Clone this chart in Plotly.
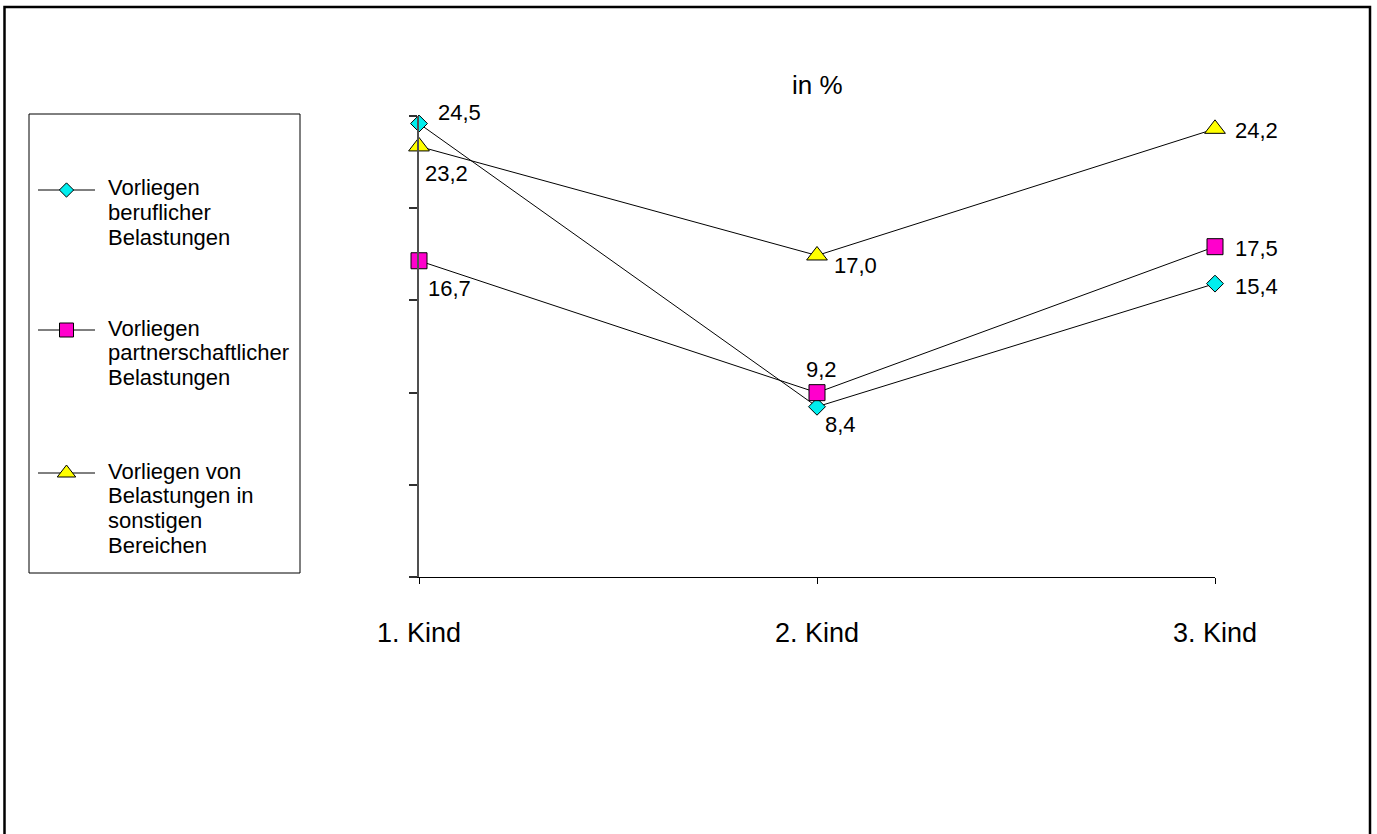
import numpy as np
import plotly.graph_objects as go

# ---- data -------------------------------------------------------------
categories = ["1. Kind", "2. Kind", "3. Kind"]

series_names = [
    "Vorliegen beruflicher Belastungen",
    "Vorliegen partnerschaftlicher Belastungen",
    "Vorliegen von Belastungen in sonstigen Bereichen",
]
beruflich = [24.5, 8.4, 15.4]
partnerschaftlich = [16.7, 9.2, 17.5]
sonstige = [23.2, 17.0, 24.2]

legend_lines = [
    ["Vorliegen", "beruflicher", "Belastungen"],
    ["Vorliegen", "partnerschaftlicher", "Belastungen"],
    ["Vorliegen von", "Belastungen in", "sonstigen", "Bereichen"],
]

# ---- styling ----------------------------------------------------------
W, H = 1377, 834
FONT = "Liberation Sans, Arial, sans-serif"
styles = [
    dict(symbol="diamond", color="#00EEEE", size=13),
    dict(symbol="square", color="#FF00CC", size=16),
    dict(symbol="triangle-up", color="#FFFF00", size=18),
]
# label offsets (px) relative to each marker: (xanchor, xshift, yshift)
label_pos = [
    [("left", 17, 11), ("left", 6, -18), ("left", 18, -3)],
    [("left", 7, -28), ("center", 4, 23), ("left", 18, -2)],
    [("left", 4, -27), ("left", 15, -10), ("left", 18, -2)],
]

# value axis extent and tick layout
y_min, y_max = -1.28, 24.93
y_ticks = np.linspace(y_min, y_max, 6)


def px_x(p):
    return p / W


def px_y(p):
    return 1 - p / H


fig = go.Figure()
annotations = []

for name, vals, st, lp in zip(series_names, [beruflich, partnerschaftlich, sonstige], styles, label_pos):
    fig.add_trace(go.Scatter(
        x=categories, y=vals, name=name, mode="lines+markers",
        line=dict(color="black", width=1),
        marker=dict(symbol=st["symbol"], size=st["size"], color=st["color"],
                    line=dict(color="black", width=1)),
        cliponaxis=False, showlegend=False,
    ))
    for cat, v, (anchor, dx, dy) in zip(categories, vals, lp):
        annotations.append(dict(
            x=cat, y=v, xref="x", yref="y", text=f"{v:.1f}".replace(".", ","),
            showarrow=False, xanchor=anchor, yanchor="middle",
            xshift=dx, yshift=dy, font=dict(family=FONT, size=22, color="black"),
        ))

# ---- legend drawn on a pixel-space overlay axis --------------------------
legend_rows = [190, 330, 473]
for st, row, lines in zip(styles, legend_rows, legend_lines):
    fig.add_trace(go.Scatter(
        x=[38, 95], y=[row, row], xaxis="x2", yaxis="y2", mode="lines",
        line=dict(color="black", width=1), showlegend=False, hoverinfo="skip",
    ))
    fig.add_trace(go.Scatter(
        x=[66.5], y=[row], xaxis="x2", yaxis="y2", mode="markers",
        marker=dict(symbol=st["symbol"], size=st["size"] - 2, color=st["color"],
                    line=dict(color="black", width=1)),
        showlegend=False, hoverinfo="skip",
    ))
    for i, txt in enumerate(lines):
        annotations.append(dict(
            x=px_x(106), y=px_y(row - 2 + 24.7 * i), xref="paper", yref="paper",
            text=txt, showarrow=False, xanchor="left", yanchor="middle",
            font=dict(family=FONT, size=22, color="black"),
        ))

# title
annotations.append(dict(
    x=px_x(817), y=px_y(85), xref="paper", yref="paper", text="in %",
    showarrow=False, xanchor="center", yanchor="middle",
    font=dict(family=FONT, size=26, color="black"),
))

shapes = [
    # legend frame
    dict(type="rect", xref="paper", yref="paper",
         x0=px_x(29), x1=px_x(300), y0=px_y(573), y1=px_y(114),
         line=dict(color="black", width=1)),
    # outer frame
    dict(type="rect", xref="paper", yref="paper",
         x0=px_x(4.5), x1=px_x(1370), y0=px_y(842), y1=px_y(7),
         line=dict(color="black", width=2.5)),
]

fig.update_layout(
    template="none",
    width=W, height=H, autosize=False,
    margin=dict(l=0, r=0, t=0, b=0, pad=0, autoexpand=False),
    paper_bgcolor="white", plot_bgcolor="rgba(0,0,0,0)",
    font=dict(family=FONT, color="black"),
    annotations=annotations, shapes=shapes, showlegend=False,
    xaxis=dict(
        domain=[px_x(419), px_x(1215)], type="category", range=[0, 2],
        showline=True, linecolor="black", linewidth=1,
        ticks="outside", ticklen=6, tickcolor="black", tickwidth=1,
        showgrid=False, zeroline=False, fixedrange=True, automargin=False,
        tickfont=dict(family=FONT, size=27, color="black"),
        ticklabelstandoff=26,
    ),
    yaxis=dict(
        domain=[px_y(577), px_y(116)], range=[y_min, y_max],
        showline=True, linecolor="#505050", linewidth=2,
        ticks="outside", ticklen=8, tickcolor="#303030", tickwidth=1.5,
        tickvals=list(y_ticks), showticklabels=False,
        showgrid=False, zeroline=False, fixedrange=True, automargin=False,
    ),
    xaxis2=dict(domain=[0, 1], range=[0, W], visible=False, anchor="y2",
                fixedrange=True, automargin=False),
    yaxis2=dict(domain=[0, 1], range=[H, 0], visible=False, anchor="x2",
                fixedrange=True, automargin=False),
)

fig.write_html("out.html")
